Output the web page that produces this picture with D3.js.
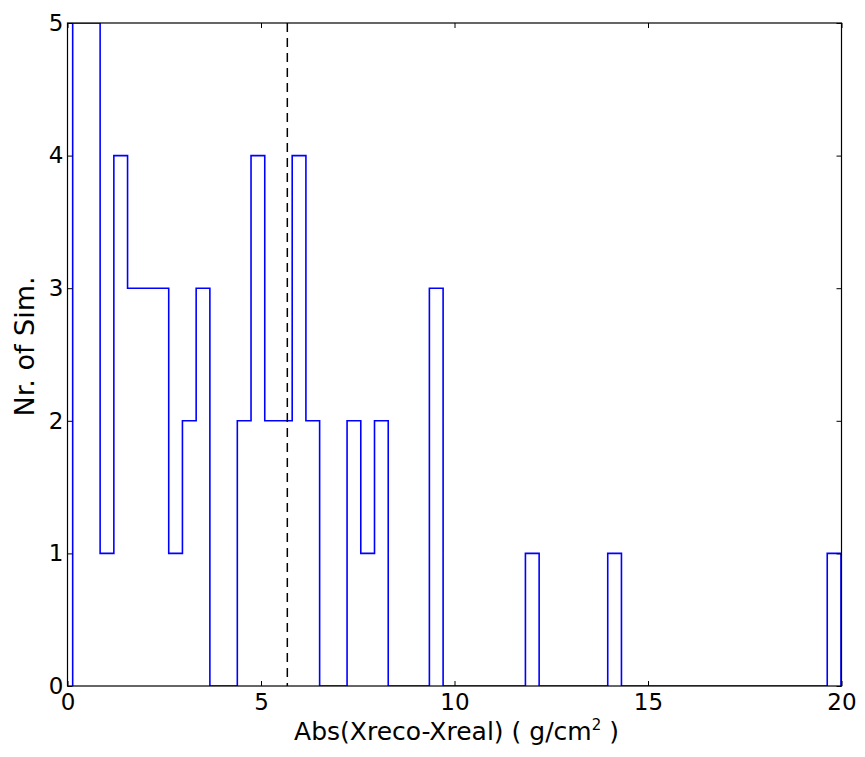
<!DOCTYPE html>
<html>
<head>
<meta charset="utf-8">
<script src="https://cdn.jsdelivr.net/npm/d3@7"></script>
<style>
  body { margin: 0; background: #fff; }
  text { font-family: "DejaVu Sans", sans-serif; }
</style>
</head>
<body>
<svg width="865" height="757"></svg>
<script>
// histogram data: first bin edge, bin width and counts per bin
var binStart = 0.134;
var binWidth = 0.3545;
var counts = [5,5,1,4,3,3,3,1,2,3, 0,0,2,4,2,2,4,2,0,0,
              2,1,2,0,0,0,3,0,0,0, 0,0,0,1,0,0,0,0,0,1,
              0,0,0,0,0,0,0,0,0,0, 0,0,0,0,0,1];
var meanValue = 5.68;
var xTicks = [0, 5, 10, 15, 20];
var yTicks = [0, 1, 2, 3, 4, 5];

var margin = {left: 67.5, top: 23, right: 23.5, bottom: 71};
var width = 865 - margin.left - margin.right;
var height = 757 - margin.top - margin.bottom;

var svg = d3.select('svg')
            .append("g")
            .attr("transform", "translate(" + margin.left + "," + margin.top + ")");

var scaleX = d3.scaleLinear()
               .domain([0, 20])
               .range([0, width]);

var scaleY = d3.scaleLinear()
               .domain([0, 5])
               .range([height, 0]);

// step outline like histtype='step'
var pts = [[binStart, 0]];
counts.forEach(function(c, i) {
  var x0 = binStart + i * binWidth;
  pts.push([x0, c]);
  pts.push([x0 + binWidth, c]);
});
pts.push([binStart + counts.length * binWidth, 0]);

svg.append("clipPath").attr("id", "clip")
   .append("rect").attr("width", width).attr("height", height);

var line = d3.line()
             .x(function(d) { return scaleX(d[0]); })
             .y(function(d) { return scaleY(d[1]); });

svg.append("path")
   .datum(pts)
   .attr("clip-path", "url(#clip)")
   .attr("d", line)
   .attr("fill", "none")
   .attr("stroke", "#0000ff")
   .attr("stroke-width", 1.6);

// mean line
svg.append("line")
   .attr("x1", scaleX(meanValue)).attr("x2", scaleX(meanValue))
   .attr("y1", 0).attr("y2", height)
   .attr("stroke", "#000")
   .attr("stroke-width", 1.5)
   .attr("stroke-dasharray", "9,6");

// axes, ticks pointing inward on all four sides
var fontSize = "23px";
svg.append("g")
   .attr("transform", "translate(0," + height + ")")
   .call(d3.axisBottom(scaleX).tickValues(xTicks).tickSizeInner(-5).tickSizeOuter(0).tickPadding(8))
   .call(function(g) { g.selectAll("text").attr("font-size", fontSize).attr("fill", "#000"); });

svg.append("g")
   .call(d3.axisTop(scaleX).tickValues(xTicks).tickSizeInner(-5).tickSizeOuter(0))
   .call(function(g) { g.selectAll("text").remove(); });

svg.append("g")
   .call(d3.axisLeft(scaleY).tickValues(yTicks).tickFormat(d3.format("d")).tickSizeInner(-5).tickSizeOuter(0).tickPadding(4))
   .call(function(g) { g.selectAll("text").attr("font-size", fontSize).attr("fill", "#000"); });

svg.append("g")
   .attr("transform", "translate(" + width + ",0)")
   .call(d3.axisRight(scaleY).tickValues(yTicks).tickSizeInner(-5).tickSizeOuter(0))
   .call(function(g) { g.selectAll("text").remove(); });

svg.selectAll(".domain").remove();
svg.append("rect")
   .attr("width", width).attr("height", height)
   .attr("fill", "none").attr("stroke", "#000").attr("stroke-width", 1.2);

// labels
var xl = svg.append("text")
   .attr("x", width / 2 + 2).attr("y", height + 54)
   .attr("text-anchor", "middle")
   .attr("font-size", "25px");
xl.append("tspan").text("Abs(Xreco-Xreal) ( g/cm");
xl.append("tspan").attr("font-size", "15px").attr("dy", "-10").text("2");
xl.append("tspan").attr("dy", "10").text(" )");

svg.append("text")
   .attr("transform", "translate(-34," + (height / 2 - 8) + ") rotate(-90)")
   .attr("text-anchor", "middle")
   .attr("font-size", "27px")
   .text("Nr. of Sim.");
</script>
</body>
</html>
